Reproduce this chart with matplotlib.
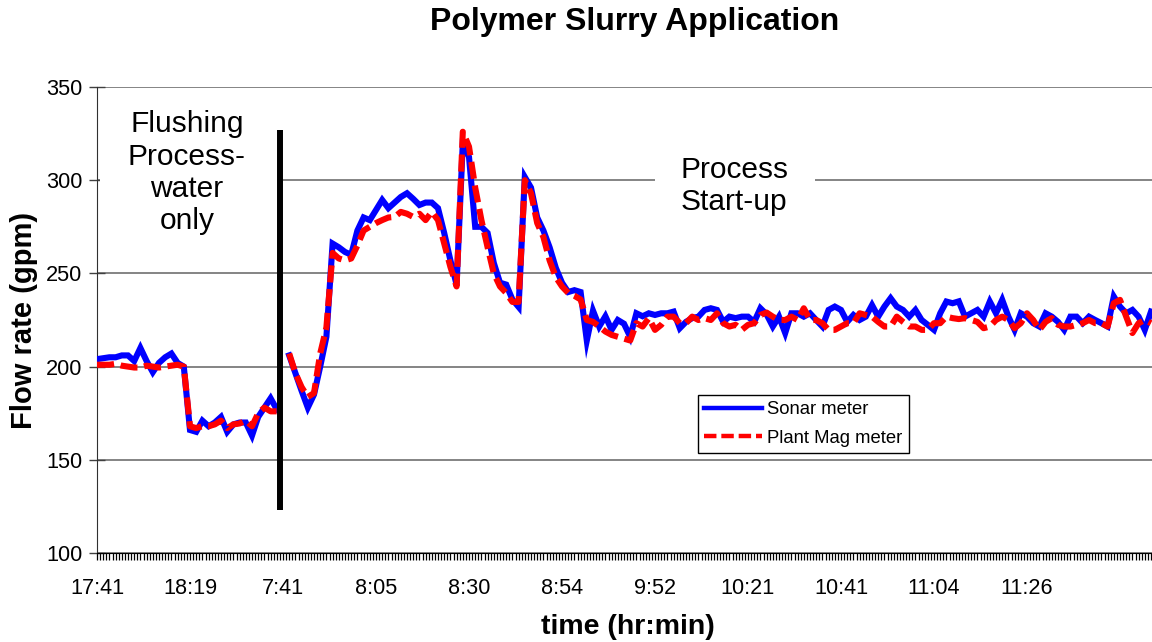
import numpy as np
import matplotlib
matplotlib.use("Agg")
import matplotlib.pyplot as plt
from matplotlib.ticker import MultipleLocator, FixedLocator, FixedFormatter
from matplotlib.patches import Rectangle

plt.rcParams['font.family'] = ['Liberation Sans', 'DejaVu Sans']

# ---------------- data (one value every 2 samples) ----------------
nan = np.nan
sonar = [
    204, 204.5, 205, 205, 206, 206, 203, 210, 203, 197,
    202, 205, 207, 202, 200, 166, 165, 171, 168, 170,
    173, 165, 169, 170, 170, 163, 173, 178, 183, 177,
    nan, 206, 196.5, 187, 178, 185, 200, 216, 266, 264,
    261.5, 260, 273, 280, 278.6, 284, 289.4, 285, 288, 291,
    293, 290, 286.7, 288, 288, 285, 271.7, 257, 244, 320,
    312.5, 275, 275, 271.7, 255.6, 245, 244, 236, 232, 301.7,
    296, 280, 273, 264, 253, 245, 240, 241, 240, 214,
    230, 221.5, 227, 219.7, 225, 223, 216, 228.6, 227, 228.6,
    227.7, 228.6, 228.6, 229.5, 220.6, 224, 226, 226.8, 230.4, 231.3,
    230.4, 224, 226.8, 226, 226.8, 226.8, 224, 231.3, 228, 221.5,
    226.8, 218, 228.6, 228.6, 226.8, 228.6, 225, 221.5, 230.4, 232.2,
    230.4, 224, 227.7, 225, 226.8, 233, 226.8, 232.2, 236.7, 232.2,
    230.4, 226.8, 230.4, 225, 222.4, 219.7, 228.6, 234.9, 234, 235,
    226.8, 228.6, 230.4, 226.8, 234.9, 228.6, 235.8, 226.8, 219.7, 228.6,
    226.8, 223.3, 221.5, 228.6, 226.8, 224, 219.7, 226.8, 226.8, 223.3,
    226.8, 225, 223.3, 221.5, 237.6, 232.2, 228.6, 230.4, 226.8, 219.7,
    229.5,
]
plant_mag = [
    201, 201, 201, 201.5, 200.5, 200, 199.5, 199.5, 200.5, 200,
    199.5, 200, 200.5, 201, 200, 168, 167, 168, 168, 169,
    171, 167, 169, 169.5, 171, 168, 175, 178, 176, 176,
    nan, 207, 196.5, 189, 183.7, 185.8, 207, 221, 261, 258,
    257, 258, 265, 273, 275, 277, 278.6, 280, 280.3, 283,
    282, 280.3, 282, 278.6, 283, 278.6, 266, 253.5, 243, 326,
    318, 296, 278.6, 264, 250, 243, 239.5, 234.7, 234.7, 300,
    293, 277, 269.5, 257, 248, 243, 239.5, 238, 236, 225,
    224, 221.5, 218.8, 217, 216, 215, 214, 223.3, 221.5, 226,
    219.7, 222.4, 226.8, 226.8, 223.3, 223.3, 226.8, 225, 226, 225,
    228.6, 223.3, 221.5, 222.4, 219.7, 222.4, 223.3, 227.7, 229, 226.8,
    225, 225, 226.8, 225, 231.3, 225, 225, 223.3, 219.7, 219.7,
    221.5, 223.3, 223.3, 228.6, 227.7, 226.8, 224, 221.5, 221.5, 226.8,
    224, 221.5, 221.5, 219.7, 219.7, 223.3, 223.3, 226.8, 226, 225.5,
    226, 225, 224, 220.6, 221.5, 225, 226.8, 225, 220.6, 223.3,
    228.6, 225, 219.7, 224, 226, 222.4, 221.5, 221.5, 222.4, 223.3,
    225, 223.3, 223.3, 221.5, 234, 235.8, 226.8, 218, 223.3, 225,
    223.3,
]
sample_step = 2
time_labels = ['17:41', '18:19', '7:41', '8:05', '8:30', '8:54',
               '9:52', '10:21', '10:41', '11:04', '11:26']
label_every = 30          # samples between labelled ticks
switch_sample = 59        # vertical separator between the two sessions
switch_range = (123, 327)

# ---------------- figure ----------------
W, H = 1152, 642
fig = plt.figure(figsize=(W / 100, H / 100), dpi=100)
left_px, right_px, top_px, bot_px = 97, 1152, 87, 553
ax = fig.add_axes([left_px / W, 1 - bot_px / H,
                   (right_px - left_px) / W, (bot_px - top_px) / H])

x = np.arange(len(sonar)) * sample_step
xmax = (right_px - left_px) / 3.1

ax.set_ylim(100, 350)
ax.set_xlim(0, xmax)
ax.set_yticks(np.arange(100, 351, 50))
ax.yaxis.grid(True, color='#707070', linewidth=1.2, zorder=0)
ax.set_axisbelow(True)

# masks behind annotation text (hide gridline like Excel text boxes)
ax.add_patch(Rectangle((1, 296), 57, 8, facecolor='white', edgecolor='none', zorder=1))
ax.add_patch(Rectangle((180, 296), 51.6, 8, facecolor='white', edgecolor='none', zorder=1))

ax.plot(x, sonar, color='#0000FF', linewidth=4.4, solid_joinstyle='miter',
        label='Sonar meter', zorder=3)
ax.plot(x, plant_mag, color='#FF0000', linewidth=4.4, linestyle=(0, (2.8, 1.1)),
        label='Plant Mag meter', zorder=4)

ax.vlines(switch_sample, *switch_range, color='black', linewidth=4.3, zorder=5)

ax.text(29, 304, 'Flushing\nProcess-\nwater\nonly', ha='center', va='center',
        fontsize=21.5, linespacing=1.2, zorder=6)
ax.text(205.5, 297, 'Process\nStart-up', ha='center', va='center',
        fontsize=21.5, linespacing=1.2, zorder=6)

# ticks
ax.xaxis.set_major_locator(FixedLocator([i * label_every for i in range(len(time_labels))]))
ax.xaxis.set_major_formatter(FixedFormatter(time_labels))
ax.xaxis.set_minor_locator(MultipleLocator(1))
ax.tick_params(axis='x', which='both', direction='out', length=5, width=0.9,
               color='black', pad=13, labelsize=15.6)
ax.tick_params(axis='y', which='major', direction='inout', length=11, width=1,
               color='#404040', pad=5, labelsize=15.7)

for s in ['top', 'right']:
    ax.spines[s].set_visible(False)
ax.spines['left'].set_color('#303030')
ax.spines['bottom'].set_color('black')

ax.set_xlabel('time (hr:min)', fontsize=20.5, fontweight='bold')
ax.set_ylabel('Flow rate (gpm)', fontsize=21, fontweight='bold')
ax.xaxis.set_label_coords(0.503, -0.131)
ax.yaxis.set_label_coords(-0.056, 0.5)

fig.text(635 / W, 1 - 22 / H, 'Polymer Slurry Application', ha='center', va='center',
         fontsize=23, fontweight='bold')

leg = ax.legend(loc='upper left', bbox_to_anchor=((698 - left_px) / (right_px - left_px),
                                                  1 - (395 - top_px) / (bot_px - top_px)),
                fontsize=13.3, frameon=True, fancybox=False, framealpha=1,
                edgecolor='black', borderaxespad=0, handlelength=3.1,
                handletextpad=0.3, labelspacing=0.6, borderpad=0.35)
leg.get_frame().set_linewidth(1)
for h in leg.get_lines():
    h.set_linewidth(3.2)

fig.savefig('out.png', dpi=100)
